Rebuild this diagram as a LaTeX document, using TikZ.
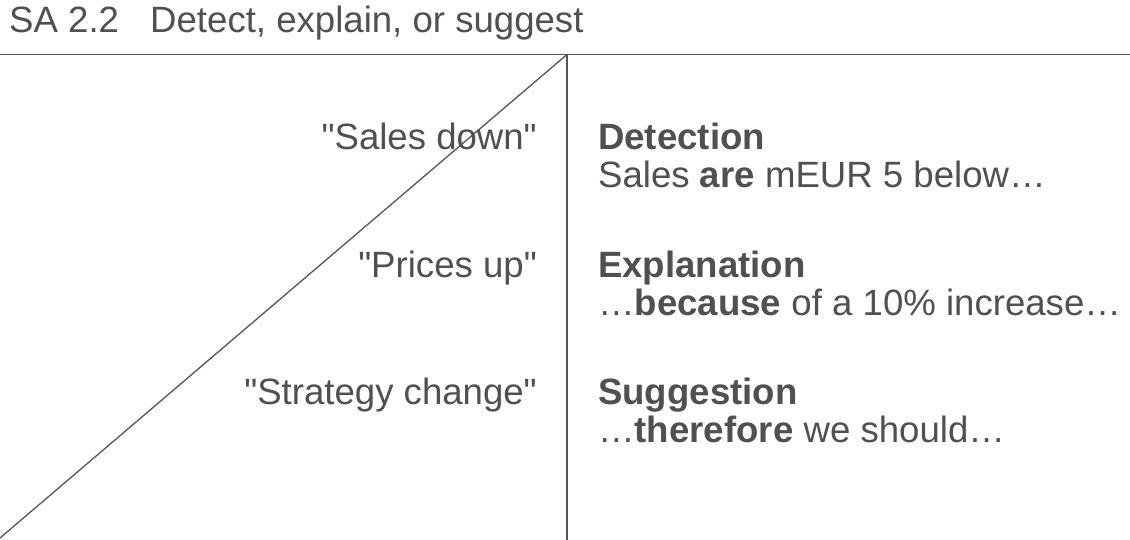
\documentclass[tikz,border=0pt]{standalone}
\usepackage{fontspec}
\setmainfont{Liberation Sans}
\definecolor{txt}{HTML}{505050}
\definecolor{ln}{HTML}{555555}
\newcommand{\qq}[1]{\textquotedbl#1\textquotedbl}
\begin{document}
\begin{tikzpicture}[x=1pt,y=-1pt,
  lbl/.style={inner sep=0pt,text=txt,font=\fontsize{36.6}{42}\selectfont},
  head/.style={lbl,font=\fontsize{36.6}{42}\selectfont\bfseries},
  rline/.style={draw=ln,line width=1.3pt}]
\useasboundingbox (0,0) rectangle (1130,540);
% frame lines
\coordinate (hl) at (0,54.5);
\coordinate (hr) at (1130,54.5);
\coordinate (apex) at (567,54.5);
\coordinate (vbot) at (567,540);
\coordinate (dbot) at (0,538);
\draw[rline] (hl) -- (hr);
\draw[rline] (apex) -- (vbot);
\draw[rline] (apex) -- (dbot);
% title
\node[lbl,anchor=base west] (num) at (9,32.5) {SA 2.2};
\node[lbl,anchor=base west] (title) at (150,32.5) {Detect, explain, or suggest};
% left labels
\node[lbl,anchor=base east] (q1) at (537,150) {\qq{Sales down}};
\node[lbl,anchor=base east] (q2) at (537,277) {\qq{Prices up}};
\node[lbl,anchor=base east] (q3) at (537,404) {\qq{Strategy change}};
% right labels
\node[head,anchor=base west] (h1) at (598,150) {Detection};
\node[lbl,anchor=base west] (t1) at (598,188) {Sales \textbf{are} mEUR 5 below…};
\node[head,anchor=base west] (h2) at (598,277) {Explanation};
\node[lbl,anchor=base west] (t2) at (598,315) {…\textbf{because} of a 10\% increase…};
\node[head,anchor=base west] (h3) at (598,404) {Suggestion};
\node[lbl,anchor=base west] (t3) at (598,442) {…\textbf{therefore} we should…};
\end{tikzpicture}
\end{document}
